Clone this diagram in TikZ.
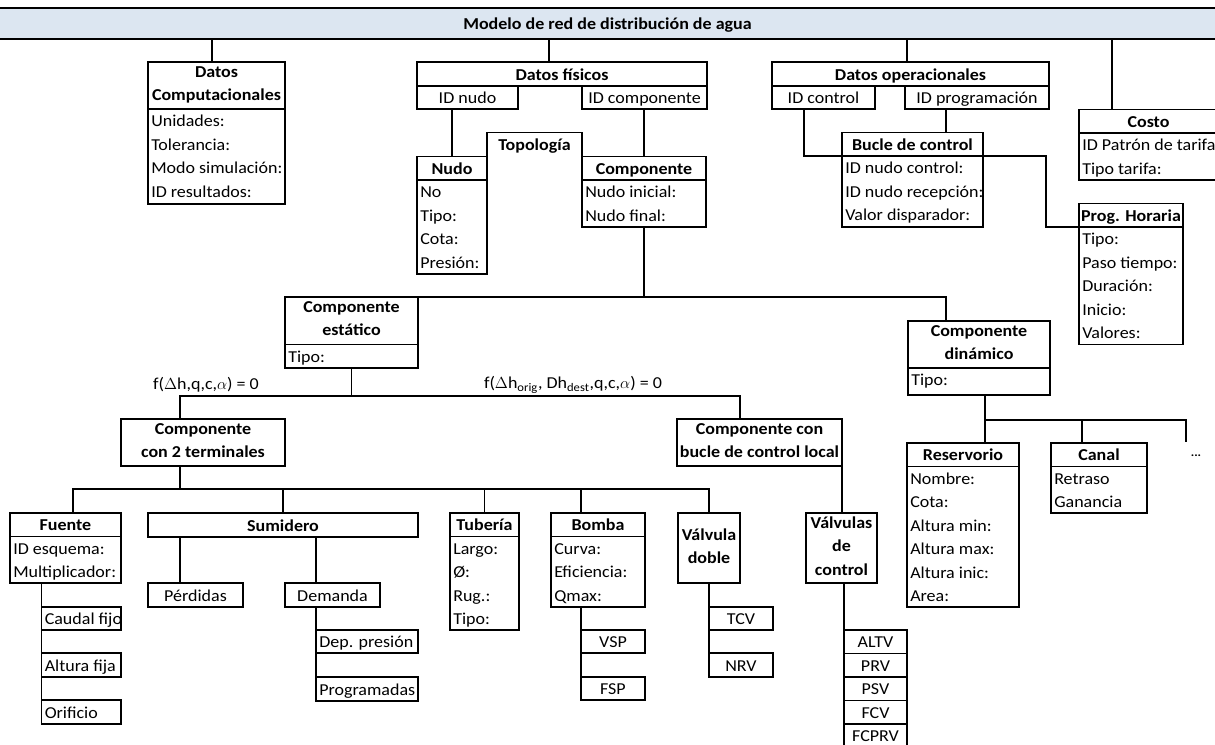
\documentclass[tikz,border=0pt]{standalone}
\usepackage{fontspec}
\setmainfont{Carlito}[FakeStretch=1.08]
\definecolor{titlefill}{HTML}{DCE6F1}
\newcommand\vstrut{\rule[-3pt]{0pt}{15pt}}
% table box: name, x1, y1, x2, y2, header bottom, header text, rows
\newcommand\tbl[8]{%
  \node[frame, minimum width={(#4-#2)*0.75pt}, minimum height={(#5-#3)*0.75pt}] (#1) at ({(#2+#4)/2},{(#3+#5)/2}) {};
  \coordinate (#1-hl) at (#2,#6);
  \coordinate (#1-hr) at (#4,#6);
  \draw[edge] (#1-hl) -- (#1-hr);
  \node[hdr] (#1-h) at ({(#2+#4)/2},{(#3+#6)/2}) {#7};
  \foreach \t [count=\i] in {#8} {\node[rowtxt] (#1-\i) at ({#2+3},{#6+23.5*(\i-0.5)}) {\t};}
}
% box with centred text: name, x1, y1, x2, y2, extra style, text
\newcommand\cbox[7]{%
  \node[cell, minimum width={(#4-#2)*0.75pt}, minimum height={(#5-#3)*0.75pt}, #6] (#1) at ({(#2+#4)/2},{(#3+#5)/2}) {#7};
}
% box with left-aligned text: name, x1, y1, x2, y2, text
\newcommand\lbox[6]{%
  \node[frame, minimum width={(#4-#2)*0.75pt}, minimum height={(#5-#3)*0.75pt}] (#1) at ({(#2+#4)/2},{(#3+#5)/2}) {};
  \node[rowtxt] (#1-t) at ({#2+3},{(#3+#5)/2}) {#6};
}
\begin{document}
\begin{tikzpicture}[x=0.75pt,y=-0.75pt,
  edge/.style={line width=1.45pt},
  frame/.style={draw, line width=1.45pt, inner sep=0pt, outer sep=0pt, anchor=center},
  cell/.style={frame, align=center, execute at begin node=\vstrut, execute at end node=\vstrut},
  hdr/.style={font=\bfseries, align=center, inner sep=0pt, execute at begin node=\vstrut, execute at end node=\vstrut},
  rowtxt/.style={anchor=west, inner sep=0pt, execute at begin node=\vstrut},
  lbl/.style={inner sep=0pt, execute at begin node=\vstrut}]
\fontsize{12.5}{17.6}\selectfont
\useasboundingbox (0,0) rectangle (1215,744);

% ---------- title bar ----------
\node[cell, fill=titlefill, font=\bfseries, minimum width={1225*0.75pt}, minimum height={31*0.75pt}] (title) at (607.5,23.5) {Modelo de red de distribución de agua};

% ---------- first level ----------
\tbl{dc}{148}{62}{285}{204}{109}{Datos\\Computacionales}{Unidades:,Tolerancia:,Modo simulación:,ID resultados:}

\cbox{df}{417}{62}{707}{86}{font=\bfseries}{Datos físicos}
\cbox{idn}{417}{86}{518}{109}{}{ID nudo}
\cbox{idc}{582}{86}{707}{109}{}{ID componente}

\cbox{dop}{772}{62}{1049}{86}{font=\bfseries}{Datos operacionales}
\cbox{idctl}{772}{86}{875}{109}{}{ID control}
\cbox{idprg}{905}{86}{1049}{109}{}{ID programación}

\tbl{costo}{1079}{109.5}{1218}{180}{133}{Costo}{ID Patrón de tarifa,Tipo tarifa:}

% ---------- topology ----------
\node[hdr] (topo) at (534.5,144.5) {Topología};
\coordinate (topo-nw) at (487,132.5);
\coordinate (topo-ne) at (582,132.5);
\tbl{nudo}{417}{156.5}{487}{274}{180}{Nudo}{No,Tipo:,Cota:,Presión:}
\tbl{comp}{582}{156.5}{706}{227}{180}{Componente}{Nudo inicial:,Nudo final:}
\draw[edge] (nudo.north east) -- (topo-nw) -- (topo-ne) -- (comp.north west);

% ---------- control ----------
\tbl{bucle}{842}{132.5}{983}{227}{156}{Bucle de control}{ID nudo control:,ID nudo recepción:,Valor disparador:}
\tbl{prog}{1079}{203.5}{1183}{344.5}{227}{Prog. Horaria}{Tipo:,Paso tiempo:,Duración:,Inicio:,Valores:}

% ---------- component kinds ----------
\tbl{est}{285}{297}{418}{368}{344.5}{Componente\\estático}{Tipo:}
\tbl{dyn}{908}{321}{1050}{395}{368}{Componente\\dinámico}{Tipo:}

\node[lbl] (eqa) at (206,383) {f($\Delta$h,q,c,$\alpha$) = 0};
\node[lbl] (eqb) at (573,383) {f($\Delta$h\textsubscript{orig}, Dh\textsubscript{dest},q,c,$\alpha$) = 0};

\cbox{ctt}{121}{419}{285}{466}{font=\bfseries}{Componente\\con 2 terminales}
\cbox{cbl}{677}{419}{842}{466}{font=\bfseries}{Componente con\\bucle de control local}

% ---------- two-terminal components ----------
\tbl{fuente}{10}{513}{121}{583}{536.5}{Fuente}{ID esquema:,Multiplicador:}
\cbox{sum}{148}{513}{418}{537}{font=\bfseries}{Sumidero}
\tbl{tub}{450}{513}{519}{630}{536.5}{Tubería}{Largo:,Ø:,Rug.:,Tipo:}
\tbl{bomba}{551}{513}{645}{607}{536.5}{Bomba}{Curva:,Eficiencia:,Qmax:}
\cbox{vdoble}{678}{513}{740}{583}{font=\bfseries}{Válvula\\doble}
\cbox{vctl}{806}{513}{877}{583}{font=\bfseries}{Válvulas\\de\\control}

% ---------- dynamic components ----------
\tbl{res}{907}{443}{1019}{607}{466.5}{Reservorio}{Nombre:,Cota:,Altura min:,Altura max:,Altura inic:,Area:}
\tbl{canal}{1051}{443}{1147}{513}{466.5}{Canal}{Retraso,Ganancia}
\node[font=\bfseries\small, inner sep=0pt] (more) at (1196,456) {...};
\coordinate (moretop) at (1186,442);

% ---------- leaves ----------
\lbox{caudal}{41.5}{607}{121}{630}{Caudal fijo}
\lbox{altura}{41.5}{653}{121}{677}{Altura fija}
\lbox{orif}{41.5}{700}{121}{724}{Orificio}

\cbox{perd}{148}{583}{243}{607}{}{Pérdidas}
\cbox{dem}{285}{583}{380}{607}{}{Demanda}
\lbox{dep}{316}{630}{418}{653}{Dep. presión}
\lbox{progr}{316}{677}{418}{701}{Programadas}

\cbox{vsp}{581}{630}{645}{653}{}{VSP}
\cbox{fsp}{581}{677}{645}{700}{}{FSP}

\cbox{tcv}{709}{607}{773}{630}{}{TCV}
\cbox{nrv}{709}{653}{773}{677}{}{NRV}

\cbox{altv}{844}{630}{907}{653.5}{}{ALTV}
\cbox{prv}{844}{653.5}{907}{677}{}{PRV}
\cbox{psv}{844}{677}{907}{700.5}{}{PSV}
\cbox{fcv}{844}{700.5}{907}{724}{}{FCV}
\cbox{fcprv}{844}{724}{907}{747.5}{}{FCPRV}

% ---------- connector columns and levels ----------
\coordinate (dcdrop) at (212,0);
\coordinate (dfdrop) at (549,0);
\coordinate (dopdrop) at (907,0);
\coordinate (costdrop) at (1112,0);
\coordinate (ctldrop) at (804,0);
\coordinate (prgdrop) at (946,0);
\coordinate (progbus) at (1046,0);
\coordinate (dyndrop) at (946,0);
\coordinate (cttdrop) at (180,0);
\coordinate (cbldrop) at (740,0);
\coordinate (sbus) at (0,396);
\coordinate (tbus) at (0,489);
\coordinate (fdrop) at (73,0);
\coordinate (bdrop) at (581,0);
\coordinate (perddrop) at (180,0);
\coordinate (demdrop) at (316,0);
\coordinate (resdrop) at (985,0);
\coordinate (candrop) at (1082,0);
\coordinate (dbus) at (0,420);

% ---------- connectors ----------
\draw[edge] (title.south -| dcdrop) -- (dc.north -| dcdrop);
\draw[edge] (title.south -| dfdrop) -- (df.north -| dfdrop);
\draw[edge] (title.south -| dopdrop) -- (dop.north -| dopdrop);
\draw[edge] (title.south -| costdrop) -- (costo.north -| costdrop);

\draw[edge] (idn.south -| nudo.north) -- (nudo.north);
\draw[edge] (idc.south -| comp.north) -- (comp.north);

\draw[edge] (idctl.south -| ctldrop) |- (bucle-hl);
\draw[edge] (idprg.south -| prgdrop) -- (bucle.north -| prgdrop);
\draw[edge] (bucle-hr) -| (progbus |- prog-hl) -- (prog-hl);

\draw[edge] (comp.south) -- (comp.south |- est.north);
\draw[edge] (est.north east) -| (dyn.north -| dyndrop);

\draw[edge] (est.south) -- (est.south |- sbus);
\draw[edge] (ctt.north -| cttdrop) -- (cttdrop |- sbus) -- (cbldrop |- sbus) -- (cbl.north -| cbldrop);

\draw[edge] (ctt.south -| cttdrop) -- (cttdrop |- tbus);
\draw[edge] (fuente.north -| fdrop) -- (fdrop |- tbus) -- (vdoble.north |- tbus) -- (vdoble.north);
\draw[edge] (sum.north) -- (sum.north |- tbus);
\draw[edge] (tub.north) -- (tub.north |- tbus);
\draw[edge] (bomba.north -| bdrop) -- (bdrop |- tbus);

\draw[edge] (cbl.south east) -- (cbl.south east |- vctl.north);

\draw[edge] (dyn.south -| resdrop) -- (res.north -| resdrop);
\draw[edge] (resdrop |- dbus) -- (moretop |- dbus) -- (moretop);
\draw[edge] (candrop |- dbus) -- (canal.north -| candrop);

\draw[edge] (fuente.south -| caudal.west) -- (orif.south west);
\draw[edge] (sum.south -| perddrop) -- (perd.north -| perddrop);
\draw[edge] (sum.south -| demdrop) -- (dem.north -| demdrop);
\draw[edge] (dem.south -| dep.west) -- (progr.south west);
\draw[edge] (bomba.south -| vsp.west) -- (fsp.south west);
\draw[edge] (vdoble.south) -- (nrv.south west);
\draw[edge] (vctl.south -| altv.west) -- (fcprv.south west);
\end{tikzpicture}
\end{document}
